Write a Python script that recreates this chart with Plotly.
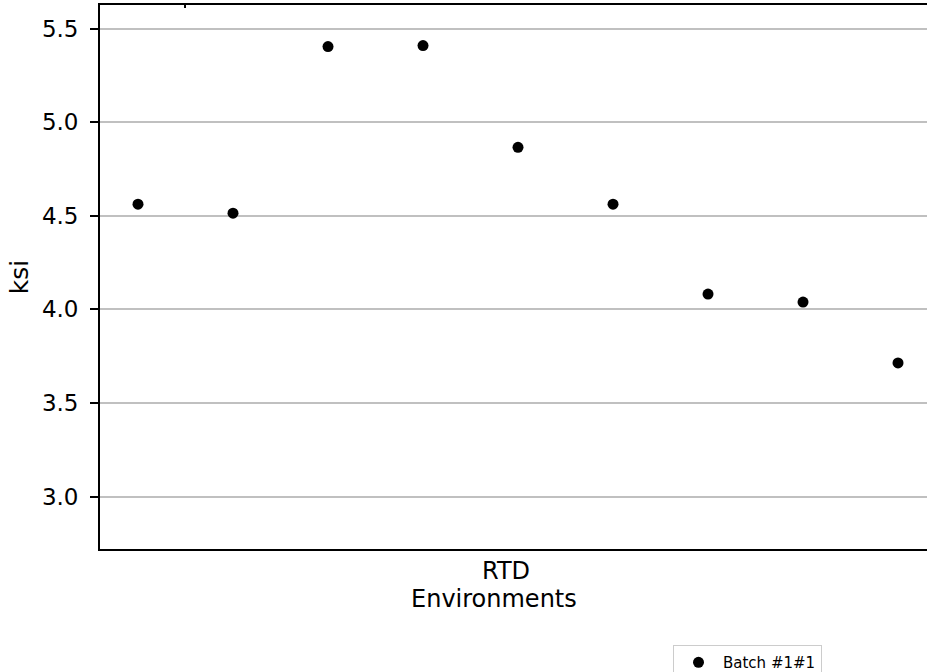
import plotly.graph_objects as go

# Specimen strength readings (ksi) for the RTD environment
specimen_idx = [0, 1, 2, 3, 4, 5, 6, 7, 8]
strength_ksi = [4.562, 4.514, 5.404, 5.409, 4.866, 4.562, 4.082, 4.039, 3.714]
y_ticks = [3.0, 3.5, 4.0, 4.5, 5.0, 5.5]
y_tick_text = ["3.0", "3.5", "4.0", "4.5", "5.0", "5.5"]
series_name = "Batch #1#1"
env_label = "RTD"

FONT = "DejaVu Sans"
TICK_SIZE = 23
LABEL_SIZE = 24

fig = go.Figure()
fig.add_trace(go.Scatter(
    x=specimen_idx,
    y=strength_ksi,
    mode="markers",
    name=series_name,
    marker=dict(color="black", size=11),
))

fig.update_layout(
    width=927,
    height=672,
    margin=dict(l=100, r=0, t=5, b=123, autoexpand=False),
    paper_bgcolor="white",
    plot_bgcolor="white",
    font=dict(family=FONT, color="black"),
    showlegend=True,
    legend=dict(
        x=(673 - 100) / 827, y=-0.1765, xanchor="left", yanchor="top",
        orientation="v",
        bordercolor="#cccccc", borderwidth=1,
        bgcolor="white",
        font=dict(family=FONT, size=15, color="black"),
        itemwidth=39,
    ),
    xaxis=dict(
        range=[-0.4, 8.305],
        showgrid=False,
        zeroline=False,
        showticklabels=False,
        ticks="",
        showline=True, linecolor="black", linewidth=1.8, mirror=True,
    ),
    yaxis=dict(
        range=[2.72, 5.626],
        tickvals=y_ticks,
        ticktext=y_tick_text,
        showgrid=True, gridcolor="#c0c0c0", gridwidth=2,
        zeroline=False,
        ticks="outside", ticklen=8, tickwidth=1.5, tickcolor="black",
        ticklabelstandoff=7,
        tickfont=dict(family=FONT, size=TICK_SIZE, color="black"),
        showline=True, linecolor="black", linewidth=1.8, mirror=False,
        title=dict(text="ksi", font=dict(family=FONT, size=25, color="black"), standoff=6),
    ),
    annotations=[
        dict(text=env_label, x=(506 - 100) / 827, y=-0.040, xref="paper", yref="paper",
             xanchor="center", yanchor="middle", showarrow=False,
             font=dict(family=FONT, size=LABEL_SIZE, color="black")),
        dict(text="Environments", x=(494 - 100) / 827, y=-0.0925, xref="paper", yref="paper",
             xanchor="center", yanchor="middle", showarrow=False,
             font=dict(family=FONT, size=LABEL_SIZE, color="black")),
    ],
    shapes=[
        dict(type="line", xref="x", yref="paper", x0=0.495, x1=0.495,
             ysizemode="pixel", yanchor=1, y0=0, y1=-3,
             line=dict(color="black", width=2)),
    ],
)

fig.write_html("out.html")
